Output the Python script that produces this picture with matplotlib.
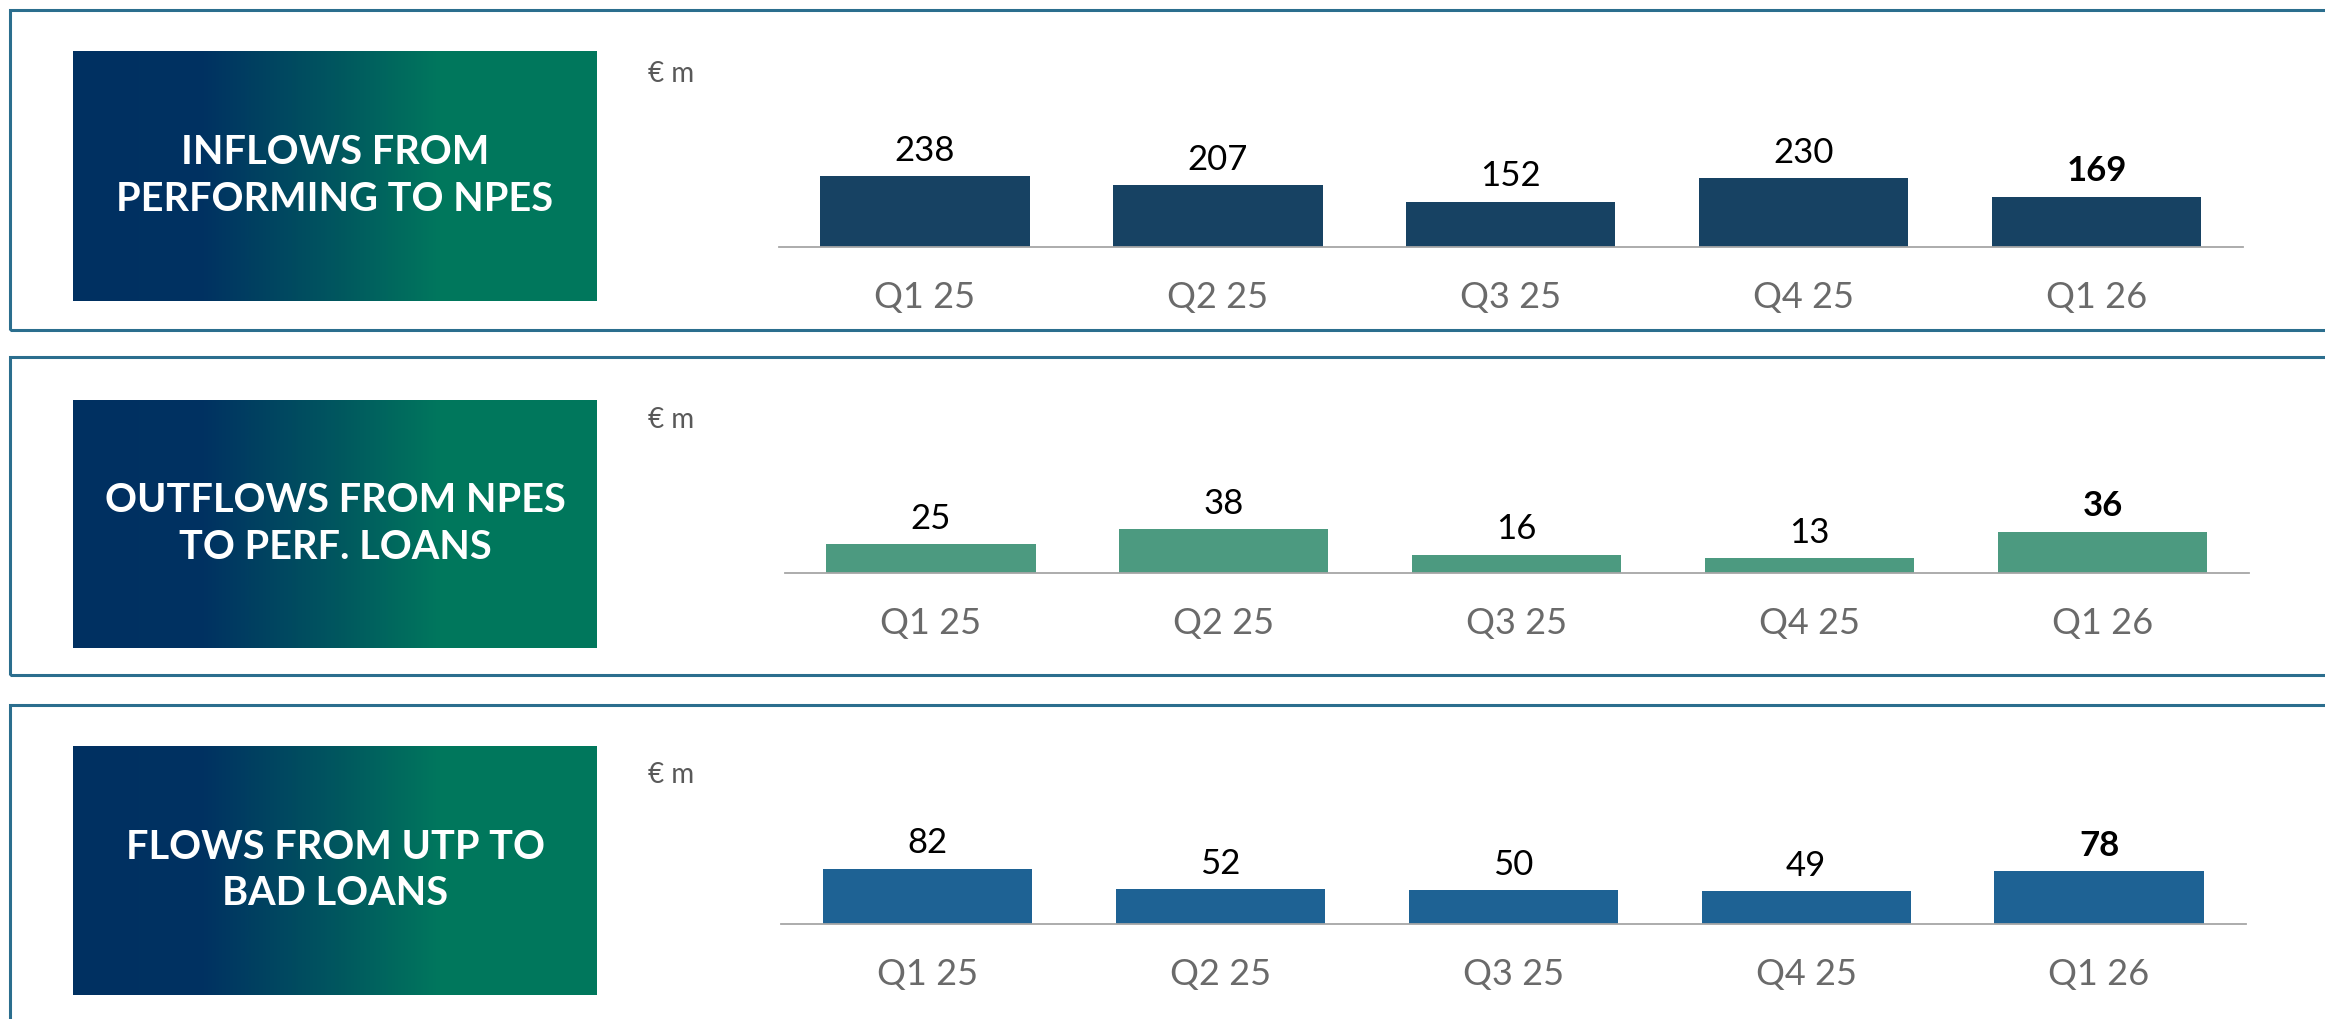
import numpy as np
import matplotlib
matplotlib.use("Agg")
import matplotlib.pyplot as plt
from matplotlib.colors import LinearSegmentedColormap
from matplotlib.patches import Rectangle

# ---------------- data ----------------
quarters = ["Q1 25", "Q2 25", "Q3 25", "Q4 25", "Q1 26"]
titles = ["INFLOWS FROM\nPERFORMING TO NPES",
          "OUTFLOWS FROM NPES\nTO PERF. LOANS",
          "FLOWS FROM UTP TO\nBAD LOANS"]
inflows = [238, 207, 152, 230, 169]
outflows = [25, 38, 16, 13, 36]
utp_to_bad = [82, 52, 50, 49, 78]
unit_label = "€ m"

series = [inflows, outflows, utp_to_bad]
bar_colors = ["#174263", "#4C9A80", "#1E6294"]

# ---------------- layout (pixels) ----------------
W, H = 2325, 1019
fig = plt.figure(figsize=(W / 100, H / 100), dpi=100)
fig.patch.set_facecolor("white")

def fx(px):
    return px / W

def fy(py):
    return 1 - py / H

border_color = "#2B6E8E"
panel_tops = [10, 357, 705]
panel_bottoms = [330, 675, 1035]
box_tops = [51, 400, 746]
box_bottoms = [301, 648, 995]
box_x0, box_x1 = 73, 597
unit_y = [74, 420, 775]
baselines = [246.7, 573.3, 924.3]
axis_x0 = [778.6, 784.5, 781.0]
px_per_unit = [0.297, 1.16, 0.679]
axis_w = 5 * 292.9
ax_h = 160

# panel borders
for t, b in zip(panel_tops, panel_bottoms):
    fig.patches.append(Rectangle((fx(10), fy(b)), fx(2400), (b - t) / H,
                                 transform=fig.transFigure, fill=False,
                                 edgecolor=border_color, linewidth=2.2,
                                 zorder=0))

# gradient
cmap = LinearSegmentedColormap.from_list(
    "grad", [(0.0, "#003061"), (0.25, "#003262"), (0.5, "#00565F"),
             (0.70, "#00775D"), (1.0, "#00785C")])
grad = np.linspace(0, 1, 512).reshape(1, -1)

for i in range(3):
    gax = fig.add_axes([fx(box_x0), fy(box_bottoms[i]), fx(box_x1 - box_x0),
                        (box_bottoms[i] - box_tops[i]) / H])
    gax.imshow(grad, aspect="auto", cmap=cmap, extent=(0, 1, 0, 1))
    gax.set_axis_off()
    gax.text(0.5, 0.5, titles[i], color="white", fontsize=28.5,
             fontfamily="Lato", fontweight="bold", ha="center", va="center",
             linespacing=1.32, transform=gax.transAxes)

    fig.text(fx(648), fy(unit_y[i]), unit_label, color="#595959",
             fontsize=20, fontfamily="Lato", fontweight="normal",
             ha="left", va="center")

    # bar chart
    ax = fig.add_axes([fx(axis_x0[i]), fy(baselines[i]), fx(axis_w), ax_h / H])
    vals = series[i]
    x = np.arange(len(quarters))
    ax.bar(x, vals, width=0.714, color=bar_colors[i], zorder=2)
    ax.set_xlim(-0.5, len(quarters) - 0.5)
    ax.set_ylim(0, ax_h / px_per_unit[i])
    for s in ["top", "right", "left"]:
        ax.spines[s].set_visible(False)
    ax.spines["bottom"].set_color("#A6A6A6")
    ax.spines["bottom"].set_linewidth(1.3)
    ax.set_xticks([])
    ax.set_yticks([])
    ax.patch.set_alpha(0)
    for j, v in enumerate(vals):
        last = j == len(vals) - 1
        ax.annotate(str(v), xy=(j, v), xytext=(0, 11),
                    textcoords="offset points", ha="center", va="baseline",
                    fontsize=25, fontfamily="Lato",
                    fontweight="bold" if last else "normal",
                    color="black", annotation_clip=False)
        ax.annotate(quarters[j], xy=(j, 0), xytext=(0, -44),
                    textcoords="offset points", ha="center", va="baseline",
                    fontsize=26, fontfamily="Lato", fontweight="normal",
                    color="#6A6A6A", annotation_clip=False)

fig.savefig("out.png", dpi=100, facecolor="white")
